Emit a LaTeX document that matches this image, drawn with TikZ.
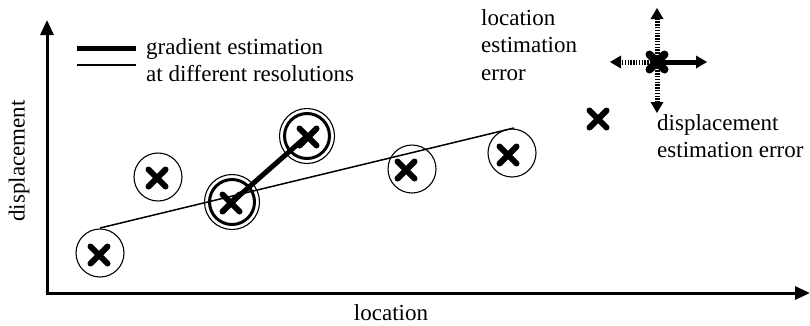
\documentclass[tikz,border=0pt]{standalone}
\usepackage{fontspec}
\setmainfont{Liberation Serif}
\usetikzlibrary{arrows.meta}
\begin{document}
\begin{tikzpicture}[x=1pt,y=-1pt,
  lbl/.style={font=\fontsize{23}{27.5}\selectfont, inner sep=0pt, align=left},
  axis/.style={line width=3pt, -{Triangle[width=13pt,length=15pt]}},
  ring/.style={circle, draw, line width=1.1pt, minimum size=48pt, inner sep=0pt},
  oring/.style={circle, draw, line width=1.1pt, minimum size=55pt, inner sep=0pt},
  iring/.style={circle, draw, line width=3pt, minimum size=45pt, inner sep=0pt},
  ladder/.style={line width=5pt, dash pattern=on 1.4pt off 1.4pt},
  xcross/.pic={\draw[line width=6pt, line cap=round] (-8.5,-8.5) -- (8.5,8.5) (-8.5,8.5) -- (8.5,-8.5);}
]
\useasboundingbox (0,0) rectangle (810,325);
% axes
\coordinate (O) at (47,293);
\coordinate (Ytop) at (47,20);
\coordinate (Xend) at (810,293);
\draw[axis] (O) -- (Ytop);
\draw[axis] ([xshift=-1.5pt]O) -- (Xend);
\node[lbl, rotate=90] (ylab) at (19,161) {displacement};
\node[lbl] (xlab) at (391,313) {location};
% legend
\coordinate (L1a) at (77,48); \coordinate (L1b) at (136,48);
\coordinate (L2a) at (77,65); \coordinate (L2b) at (136,65);
\draw[line width=5pt] (L1a) -- (L1b);
\draw[line width=1.5pt] (L2a) -- (L2b);
\node[lbl, anchor=west] (leg) at (146,60) {gradient estimation\\at different resolutions};
% circles
\node[ring] (c1) at (100,253) {};
\node[ring] (c2) at (158,177) {};
\node[oring] (c3o) at (232,202) {};
\node[iring] (c3) at (232,202) {};
\node[oring] (c4o) at (307,136) {};
\node[iring] (c4) at (307,136) {};
\node[ring] (c5) at (412,169) {};
\node[ring] (c6) at (512,153) {};
% lines
\coordinate (T1) at (100,228);
\coordinate (T2) at (514,128);
\draw[line width=1.5pt] (T1) -- (T2);
\draw[line width=5pt] (c3.center) -- (c4.center);
% crosses
\pic at (99,255) {xcross};
\pic at (157,178) {xcross};
\pic at (231,203) {xcross};
\pic at (308,137) {xcross};
\pic at (406,170) {xcross};
\pic at (508,155) {xcross};
\pic at (598,119) {xcross};
% crosshair
\coordinate (C) at (657,62);
\coordinate (Cu) at (657,8);
\coordinate (Cd) at (657,113);
\coordinate (Cl) at (610,62);
\coordinate (Cr) at (707,62);
\draw[ladder] (C) -- ([yshift=-10pt]Cu);
\draw[ladder] (C) -- ([yshift=10pt]Cd);
\draw[ladder] (C) -- ([xshift=10pt]Cl);
\draw[line width=5pt] (C) -- ([xshift=-10pt]Cr);
\fill ([yshift=-11pt]Cu) -- ++(-6.5,0) -- (Cu) -- ++(6.5,11) -- cycle;
\fill ([yshift=11pt]Cd) -- ++(-6.5,0) -- (Cd) -- ++(6.5,-11) -- cycle;
\fill ([xshift=11pt]Cl) -- ++(0,-6.5) -- (Cl) -- ++(11,6.5) -- cycle;
\fill ([xshift=-11pt]Cr) -- ++(0,-6.5) -- (Cr) -- ++(-11,6.5) -- cycle;
\draw[line width=8pt, line cap=round] ([shift={(-7.5,-7.5)}]C) -- ([shift={(7.5,7.5)}]C) ([shift={(-7.5,7.5)}]C) -- ([shift={(7.5,-7.5)}]C);
% labels
\node[lbl, anchor=north west] (loclab) at (481,9) {location\\estimation\\error};
\node[lbl, anchor=north west] (displab) at (657,114) {displacement\\estimation error};
\end{tikzpicture}
\end{document}
